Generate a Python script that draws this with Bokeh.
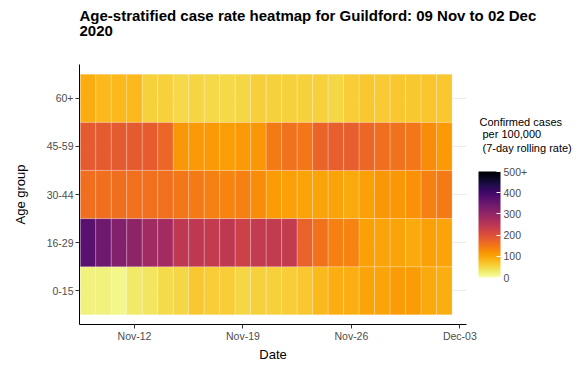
import pandas as pd
from bokeh.plotting import figure
from bokeh.models import (LinearColorMapper, ColorBar, FixedTicker, FactorRange, Range1d,
                          DatetimeTickFormatter, ColumnDataSource)
from bokeh.palettes import Inferno256
from bokeh.embed import file_html
from bokeh.resources import INLINE

dates = ["2020-11-09", "2020-11-10", "2020-11-11", "2020-11-12", "2020-11-13", "2020-11-14",
         "2020-11-15", "2020-11-16", "2020-11-17", "2020-11-18", "2020-11-19", "2020-11-20",
         "2020-11-21", "2020-11-22", "2020-11-23", "2020-11-24", "2020-11-25", "2020-11-26",
         "2020-11-27", "2020-11-28", "2020-11-29", "2020-11-30", "2020-12-01", "2020-12-02"]
age_groups = ["0-15", "16-29", "30-44", "45-59", "60+"]

rate_0_15 = [20, 20, 15, 30, 35, 45, 50, 65, 60, 60, 50, 55, 55, 60, 65, 80, 90, 90, 100, 100, 110, 110, 95, 90]
rate_16_29 = [370, 345, 320, 305, 285, 280, 245, 245, 240, 245, 225, 240, 240, 240, 175, 155, 140, 135, 105, 100, 100, 95, 105, 100]
rate_30_44 = [160, 160, 160, 158, 158, 158, 150, 145, 140, 135, 140, 125, 110, 105, 100, 100, 100, 95, 105, 115, 115, 120, 140, 145]
rate_45_59 = [185, 185, 185, 185, 183, 168, 115, 112, 112, 108, 112, 115, 145, 155, 150, 172, 178, 178, 168, 160, 155, 150, 125, 112]
rate_60 = [92, 80, 80, 80, 55, 55, 48, 52, 48, 48, 50, 58, 55, 55, 55, 55, 50, 60, 65, 62, 65, 65, 68, 65]

tick_dates = ["2020-11-12", "2020-11-19", "2020-11-26", "2020-12-03"]
legend_ticks = [0, 100, 200, 300, 400, 500]
title_lines = ["Age-stratified case rate heatmap for Guildford: 09 Nov to 02 Dec", "2020"]
legend_title_lines = ["Confirmed cases", "per 100,000", "(7-day rolling rate)"]

series = [rate_0_15, rate_16_29, rate_30_44, rate_45_59, rate_60]
xs, ys, vs = [], [], []
for grp, vals in zip(age_groups, series):
    for d, v in zip(dates, vals):
        xs.append(pd.Timestamp(d))
        ys.append(grp)
        vs.append(v)
src = ColumnDataSource(dict(x=xs, y=ys, v=vs))

DAY = 86400000
x0 = pd.Timestamp(dates[0]).value / 1e6 - 0.55 * DAY
x1 = pd.Timestamp(dates[-1]).value / 1e6 + 1.43 * DAY

mapper = LinearColorMapper(palette=list(reversed(Inferno256)), low=0, high=500)

FONT = "Liberation Sans"
p = figure(width=577, height=364, output_backend="svg", toolbar_location=None,
           title_location=None,
           x_axis_type="datetime",
           x_range=Range1d(x0, x1),
           y_range=FactorRange(*age_groups, range_padding=0.2, range_padding_units="absolute"),
           min_border_left=79, min_border_right=111, min_border_top=64, min_border_bottom=40)

p.rect(x="x", y="y", width=DAY, height=1, source=src,
       fill_color={"field": "v", "transform": mapper},
       line_color="white", line_alpha=0.35, line_width=0.6)

p.outline_line_color = None
p.background_fill_color = "white"
p.xgrid.grid_line_color = None
p.ygrid.grid_line_color = "#EBEBEB"
p.ygrid.grid_line_width = 1

p.xaxis.ticker = FixedTicker(ticks=[pd.Timestamp(t).value / 1e6 for t in tick_dates])
p.xaxis.formatter = DatetimeTickFormatter(days="%b-%d", months="%b-%d")
p.xaxis.axis_label = "Date"
p.yaxis.axis_label = "Age group"

for ax in (p.xaxis[0], p.yaxis[0]):
    ax.axis_line_color = "black"
    ax.axis_line_width = 1
    ax.major_tick_line_color = "#333333"
    ax.major_tick_out = 4
    ax.major_tick_in = 0
    ax.minor_tick_line_color = None
    ax.major_label_text_font = FONT
    ax.major_label_text_font_size = "10.5px"
    ax.major_label_text_color = "#4D4D4D"
    ax.major_label_standoff = 2
    ax.axis_label_text_font = FONT
    ax.axis_label_text_font_size = "13px"
    ax.axis_label_text_font_style = "normal"
    ax.axis_label_text_color = "black"
p.xaxis.major_label_standoff = 1
p.xaxis.axis_label_standoff = 2
p.yaxis.axis_label_standoff = 16

color_bar = ColorBar(color_mapper=mapper, ticker=FixedTicker(ticks=legend_ticks),
                     major_label_overrides={500: "500+"},
                     location=(399, 47), width=22, height=106, padding=0,
                     bar_line_color=None, background_fill_color=None, border_line_color=None,
                     major_tick_line_color="white", major_tick_in=4, major_tick_out=0,
                     minor_tick_line_color=None, label_standoff=3,
                     major_label_text_font=FONT, major_label_text_font_size="10.5px",
                     major_label_text_color="#4D4D4D")
p.add_layout(color_bar, "center")


def text_block(text, loc, size, style):
    # a horizontal colour bar with an invisible bar, used only for its title text
    return ColorBar(color_mapper=mapper, ticker=FixedTicker(ticks=[]), location=loc,
                    orientation="horizontal", width=1, height=1, padding=0, scale_alpha=0,
                    bar_line_color=None, background_fill_color=None, background_fill_alpha=0,
                    border_line_color=None, major_tick_line_color=None, minor_tick_line_color=None,
                    major_label_text_alpha=0,
                    title=text, title_standoff=0, title_text_font=FONT,
                    title_text_font_size=size, title_text_font_style=style,
                    title_text_color="black")


for t, loc in zip(title_lines, [(0, 300), (0, 288)]):
    p.add_layout(text_block(t, loc, "15px", "bold"), "center")
for t, loc in zip(legend_title_lines, [(400, 196), (403, 184), (403, 170)]):
    p.add_layout(text_block(t, loc, "11px", "normal"), "center")

open("out.html", "w").write(file_html(p, INLINE))
